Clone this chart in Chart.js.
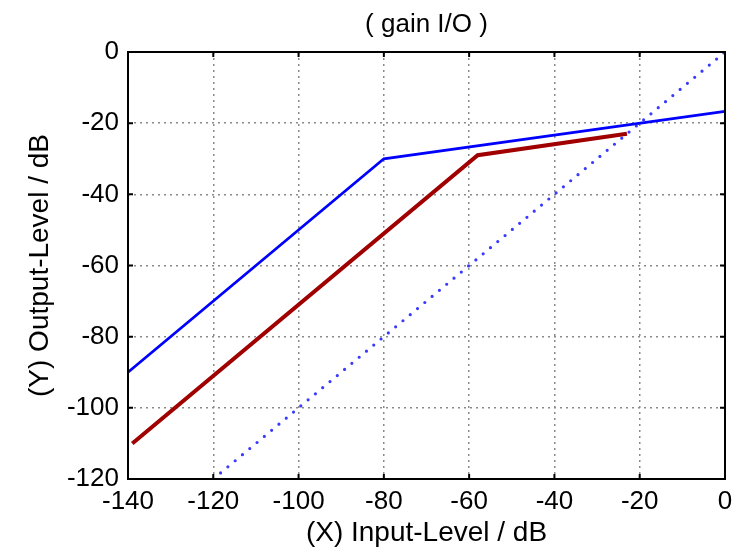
<!DOCTYPE html>
<html>
<head>
<meta charset="utf-8">
<script src="https://cdn.jsdelivr.net/npm/chart.js@4"></script>
<style>
  html, body { margin: 0; padding: 0; background: #fff; }
</style>
</head>
<body>
<canvas id="gainChart" width="749" height="550"></canvas>
<script>

var titleText = '( gain I/O )';
var xLabel = '(X) Input-Level / dB';
var yLabel = '(Y) Output-Level / dB';

var xTicks = [-140, -120, -100, -80, -60, -40, -20, 0];
var yTicks = [0, -20, -40, -60, -80, -100, -120];

// blue curve (knee at -80)
var blueIn = [-140, -80, 0];
var blueOut = [-90, -30, -16.7];

// red curve (knee at -58)
var redIn = [-139, -58, -23];
var redOut = [-110, -29, -23];

// dotted 1:1 line
var refIn = [-120, 0];
var refOut = [-120, 0];

var FONT = '"Liberation Sans", Arial, Helvetica, sans-serif';

function toPoints(xs, ys) {
  var pts = [];
  for (var i = 0; i < xs.length; i++) {
    pts.push({ x: xs[i], y: ys[i] });
  }
  return pts;
}

// matlab style box, inner ticks on all 4 sides, and the title
var boxPlugin = {
  id: 'matlabBox',
  afterDraw: function (chart) {
    var ctx = chart.ctx;
    var a = chart.chartArea;
    var xs = chart.scales.x;
    var ys = chart.scales.y;
    var tl = 5;

    ctx.save();
    ctx.strokeStyle = '#000';
    ctx.lineWidth = 2;
    ctx.setLineDash([]);
    ctx.beginPath();
    xTicks.forEach(function (v) {
      var px = xs.getPixelForValue(v);
      ctx.moveTo(px, a.bottom); ctx.lineTo(px, a.bottom - tl);
      ctx.moveTo(px, a.top); ctx.lineTo(px, a.top + tl);
    });
    yTicks.forEach(function (v) {
      var py = ys.getPixelForValue(v);
      ctx.moveTo(a.left, py); ctx.lineTo(a.left + tl, py);
      ctx.moveTo(a.right, py); ctx.lineTo(a.right - tl, py);
    });
    ctx.stroke();
    ctx.strokeRect(a.left, a.top, a.right - a.left, a.bottom - a.top);

    ctx.fillStyle = '#000';
    ctx.font = '26px ' + FONT;
    ctx.textAlign = 'center';
    ctx.textBaseline = 'middle';
    ctx.fillText(titleText, (a.left + a.right) / 2, 25);
    ctx.restore();
  }
};

var ctx = document.getElementById('gainChart').getContext('2d');
var gainChart = new Chart(ctx, {
  type: 'line',
  data: {
    datasets: [
      {
        label: 'ref',
        data: toPoints(refIn, refOut),
        borderColor: '#3a3aff',
        borderWidth: 3.2,
        borderDash: [0, 9.5],
        borderCapStyle: 'round',
        pointRadius: 0,
        tension: 0
      },
      {
        label: 'red',
        data: toPoints(redIn, redOut),
        borderColor: '#a00000',
        borderWidth: 4,
        pointRadius: 0,
        tension: 0
      },
      {
        label: 'blue',
        data: toPoints(blueIn, blueOut),
        borderColor: '#0000ff',
        borderWidth: 2.8,
        pointRadius: 0,
        tension: 0
      }
    ]
  },
  options: {
    responsive: false,
    animation: false,
    layout: { padding: { top: 52, right: 24, bottom: 0, left: 0 } },
    plugins: {
      legend: { display: false },
      tooltip: { enabled: false }
    },
    scales: {
      x: {
        type: 'linear',
        position: 'bottom',
        min: -140,
        max: 0,
        afterBuildTicks: function (scale) {
          scale.ticks = xTicks.map(function (v) { return { value: v }; });
        },
        afterFit: function (scale) { scale.height = 71; },
        grid: { color: '#8a8a8a', lineWidth: 1.5, drawTicks: false },
        border: { display: false, dash: [2, 4] },
        ticks: {
          color: '#000',
          padding: 7,
          maxRotation: 0,
          autoSkip: false,
          font: { family: FONT, size: 26 }
        },
        title: {
          display: true,
          text: xLabel,
          color: '#000',
          padding: { top: 0, bottom: 0 },
          font: { family: FONT, size: 28 }
        }
      },
      y: {
        type: 'linear',
        min: -120,
        max: 0,
        afterBuildTicks: function (scale) {
          scale.ticks = yTicks.map(function (v) { return { value: v }; });
        },
        afterFit: function (scale) { scale.width = 128; },
        grid: { color: '#8a8a8a', lineWidth: 1.5, drawTicks: false },
        border: { display: false, dash: [2, 4] },
        ticks: {
          color: '#000',
          padding: 9,
          autoSkip: false,
          font: { family: FONT, size: 26 }
        },
        title: {
          display: true,
          text: yLabel,
          color: '#000',
          padding: { top: 23, bottom: 0 },
          font: { family: FONT, size: 28 }
        }
      }
    }
  },
  plugins: [boxPlugin]
});

</script>
</body>
</html>
